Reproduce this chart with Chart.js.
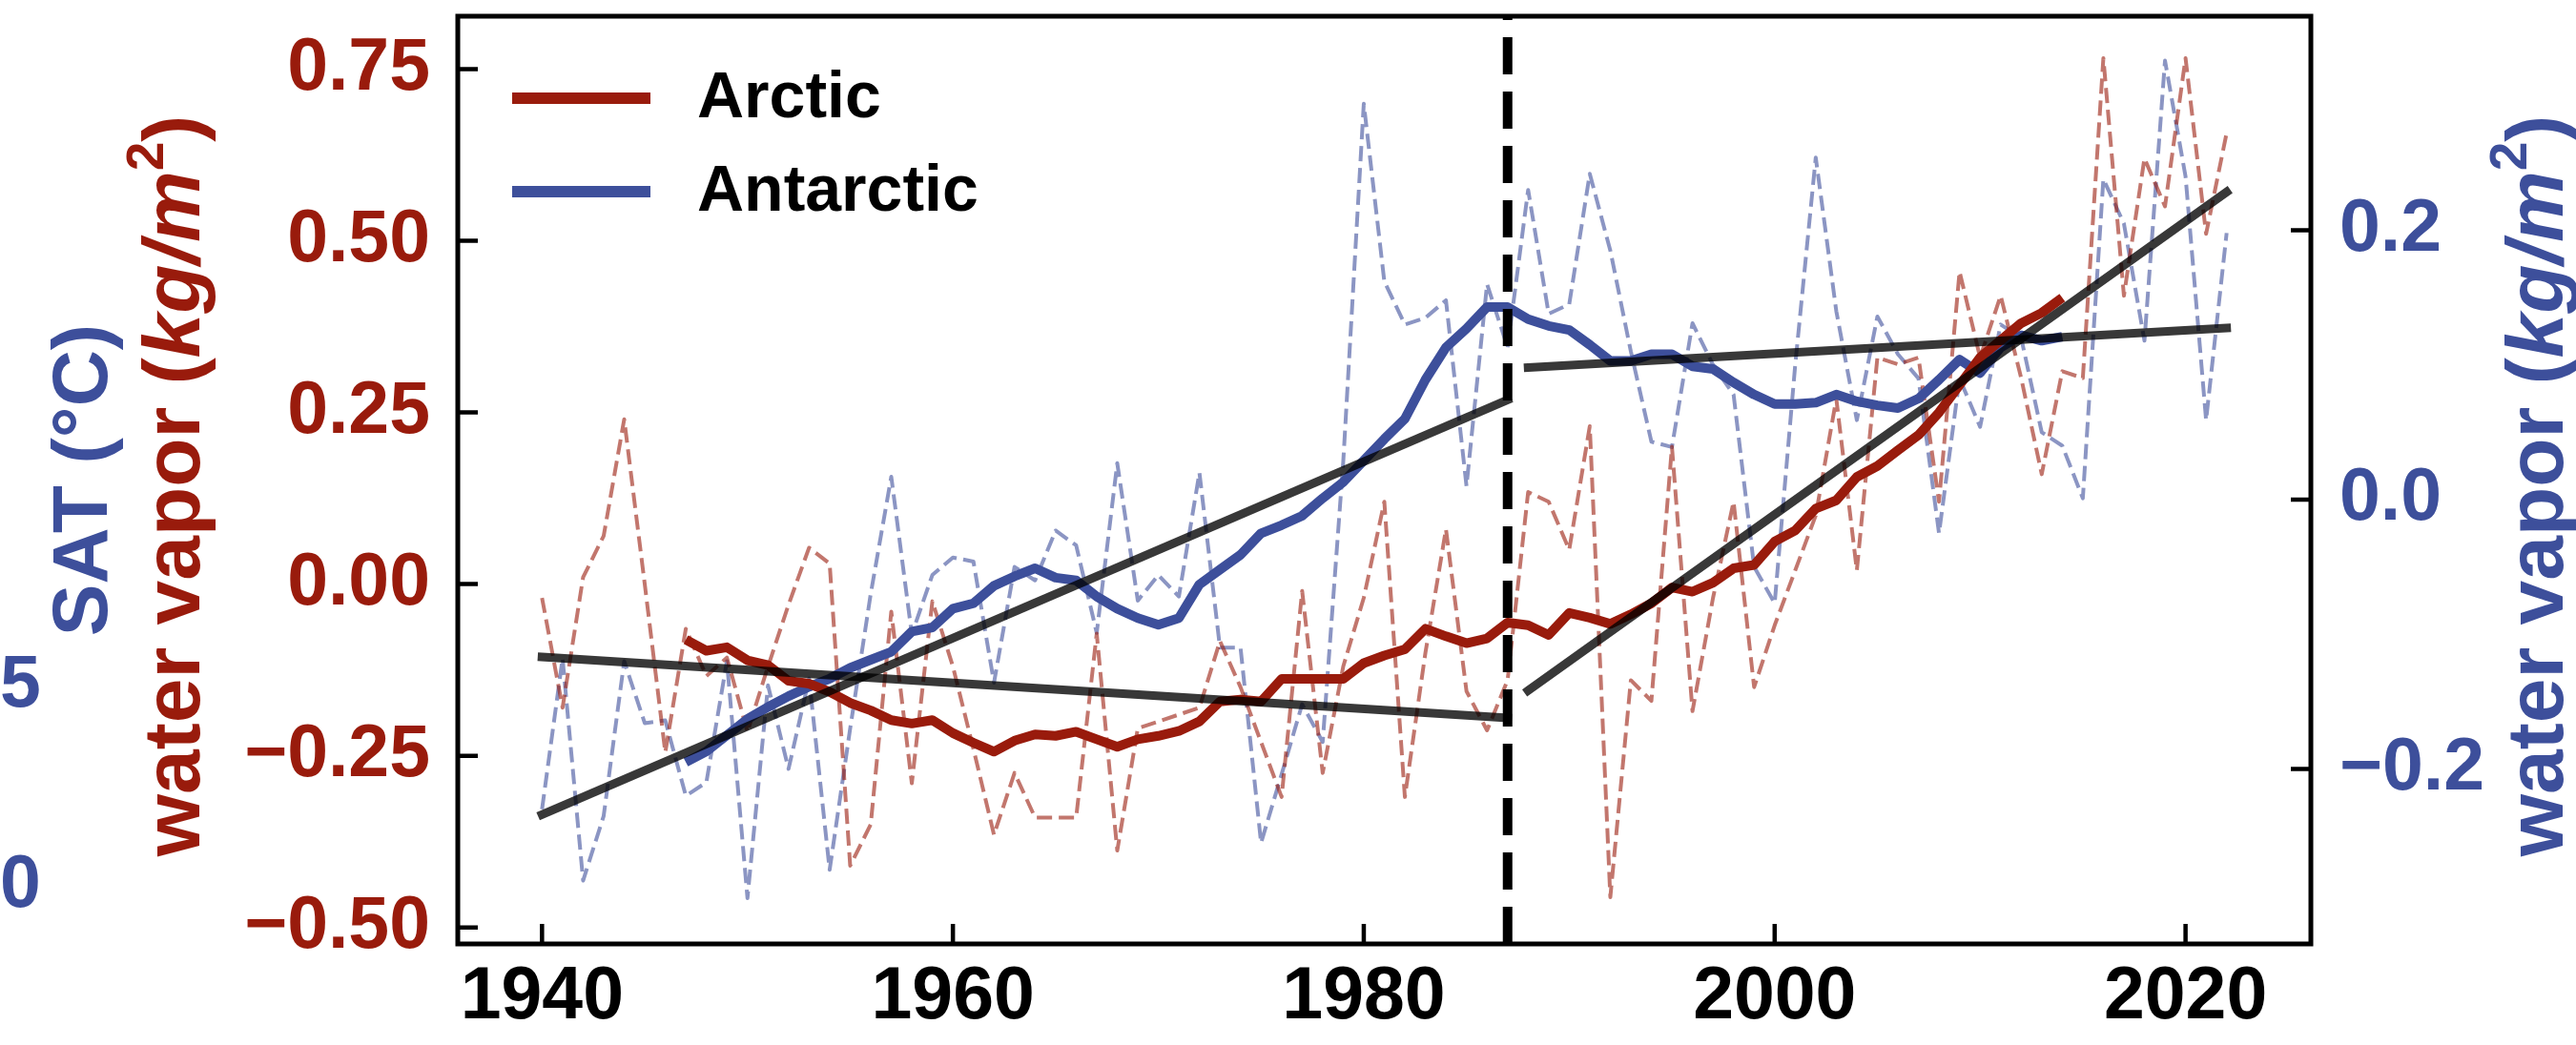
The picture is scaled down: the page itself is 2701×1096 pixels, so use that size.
<!DOCTYPE html>
<html>
<head>
<meta charset="utf-8">
<title>Arctic / Antarctic water vapor</title>
<script src="https://cdn.jsdelivr.net/npm/chart.js@4.4.1/dist/chart.umd.min.js"></script>
<style>
  html, body { margin: 0; padding: 0; background: #fff; }
  #wrap { width: 2701px; height: 1096px; }
</style>
</head>
<body>
<div id="wrap"><canvas id="chart" width="2701" height="1096"></canvas></div>
<script>
// ---- data ----
const years = [1940, 1941, 1942, 1943, 1944, 1945, 1946, 1947, 1948, 1949,
  1950, 1951, 1952, 1953, 1954, 1955, 1956, 1957, 1958, 1959,
  1960, 1961, 1962, 1963, 1964, 1965, 1966, 1967, 1968, 1969,
  1970, 1971, 1972, 1973, 1974, 1975, 1976, 1977, 1978, 1979,
  1980, 1981, 1982, 1983, 1984, 1985, 1986, 1987, 1988, 1989,
  1990, 1991, 1992, 1993, 1994, 1995, 1996, 1997, 1998, 1999,
  2000, 2001, 2002, 2003, 2004, 2005, 2006, 2007, 2008, 2009,
  2010, 2011, 2012, 2013, 2014, 2015, 2016, 2017, 2018, 2019,
  2020, 2021, 2022]

// annual anomalies (dashed), Arctic on left axis, Antarctic on right axis
const arcticAnnual = [-0.02, -0.18, 0.01, 0.07, 0.24, 0.00, -0.245, -0.065, -0.134, -0.107,
  -0.215, -0.12, -0.03, 0.053, 0.03, -0.41, -0.35, -0.04, -0.29, -0.025,
  -0.12, -0.24, -0.365, -0.275, -0.34, -0.34, -0.34, -0.072, -0.388, -0.21,
  -0.20, -0.19, -0.18, -0.083, -0.15, -0.23, -0.31, -0.01, -0.275, -0.12,
  -0.02, 0.12, -0.31, -0.10, 0.08, -0.156, -0.213, -0.14, 0.134, 0.12,
  0.05, 0.23, -0.456, -0.14, -0.17, 0.20, -0.185, -0.02, 0.12, -0.15,
  -0.06, 0.02, 0.10, 0.27, 0.02, 0.33, 0.32, 0.33, 0.12, 0.455,
  0.33, 0.42, 0.30, 0.16, 0.31, 0.30, 0.766, 0.42, 0.62, 0.55,
  0.766, 0.51, 0.657]

const antarcticAnnual = [-0.23, -0.118, -0.283, -0.235, -0.12, -0.166, -0.164, -0.22, -0.21, -0.12,
  -0.296, -0.138, -0.2, -0.133, -0.275, -0.17, -0.07, 0.017, -0.1, -0.056,
  -0.043, -0.046, -0.136, -0.05, -0.06, -0.023, -0.034, -0.099, 0.027, -0.075,
  -0.056, -0.072, 0.02, -0.11, -0.11, -0.255, -0.204, -0.152, -0.18, 0.028,
  0.294, 0.162, 0.13, 0.135, 0.148, 0.01, 0.16, 0.113, 0.23, 0.138,
  0.145, 0.242, 0.185, 0.11, 0.043, 0.039, 0.131, 0.10, 0.078, -0.05,
  -0.077, 0.10, 0.254, 0.14, 0.059, 0.136, 0.108, 0.09, -0.025, 0.09,
  0.054, 0.13, 0.12, 0.05, 0.04, 0.001, 0.238, 0.205, 0.118, 0.326,
  0.24, 0.059, 0.198]

// running means (solid), 1947-2014
const smoothYears = years.slice(7, 75)

const arcticSmooth = [-0.081, -0.097, -0.092, -0.111, -0.118, -0.141, -0.145, -0.157, -0.173, -0.184,
  -0.198, -0.203, -0.198, -0.217, -0.231, -0.244, -0.228, -0.219, -0.221, -0.215,
  -0.226, -0.237, -0.226, -0.221, -0.214, -0.2, -0.171, -0.168, -0.171, -0.138,
  -0.138, -0.138, -0.138, -0.115, -0.104, -0.095, -0.065, -0.076, -0.086, -0.079,
  -0.056, -0.06, -0.074, -0.042, -0.049, -0.058, -0.044, -0.028, -0.005, -0.011,
  0.002, 0.023, 0.028, 0.062, 0.078, 0.11, 0.122, 0.156, 0.172, 0.195,
  0.217, 0.25, 0.29, 0.33, 0.355, 0.38, 0.395, 0.417]

const antarcticSmooth = [-0.195, -0.187, -0.175, -0.163, -0.154, -0.146, -0.139, -0.133, -0.125, -0.119,
  -0.113, -0.098, -0.095, -0.081, -0.077, -0.064, -0.057, -0.051, -0.058, -0.06,
  -0.072, -0.081, -0.088, -0.093, -0.088, -0.063, -0.052, -0.041, -0.025, -0.019,
  -0.012, 0.001, 0.013, 0.029, 0.045, 0.06, 0.089, 0.113, 0.127, 0.143,
  0.143, 0.134, 0.129, 0.126, 0.115, 0.103, 0.103, 0.108, 0.108, 0.099,
  0.097, 0.087, 0.078, 0.071, 0.071, 0.072, 0.078, 0.073, 0.07, 0.068,
  0.075, 0.089, 0.104, 0.094, 0.113, 0.122, 0.118, 0.121]

// linear trends before / after the 1987 break
const trendEarlyYears = [1940, 1987]
const trendLateYears = [1988, 2022]
const arcticTrendEarly = [-0.106, -0.195]
const arcticTrendLate = [-0.155, 0.571]
const antarcticTrendEarly = [-0.234, 0.074]
const antarcticTrendLate = [0.098, 0.1275]
const breakYear = 1987

// tick labels
const xTicks = [1940, 1960, 1980, 2000, 2020]
const leftTicks = [-0.5, -0.25, 0, 0.25, 0.5, 0.75]
const rightTicks = [-0.2, 0, 0.2]
const satTicks = [0, 5]

// ---- styling ----
const RED = "#991b0c"
const BLUE = "#3d4f9b"
const FONT = "'Liberation Sans', Arial, Helvetica, sans-serif"

const X_MIN = 1935.9, X_MAX = 2026.1
const L_MIN = -0.524, L_MAX = 0.827
const R_MIN = -0.330, R_MAX = 0.359

Chart.defaults.font.family = FONT
Chart.defaults.font.weight = "bold"

function pts(xs, ys) {
  return xs.map((x, i) => ({ x: x, y: ys[i] }))
}

function signed(v, digits) {
  const s = Math.abs(v).toFixed(digits)
  return v < -1e-9 ? "\u2212" + s : s
}

// fixed box sizes so the plot area sits where the original one does
function fixWidth(w) {
  return s => { s.width = w; s.paddingTop = 0; s.paddingBottom = 0 }
}

// inward ticks + black frame, drawn above the lines
const frameAndTicks = {
  id: "frameAndTicks",
  afterDatasetsDraw(chart) {
    const { ctx, chartArea: a, scales } = chart
    ctx.save()
    ctx.strokeStyle = "#000"
    ctx.lineWidth = 4.5
    ctx.beginPath()
    scales.y.ticks.forEach(t => {
      const py = scales.y.getPixelForValue(t.value)
      ctx.moveTo(a.left, py); ctx.lineTo(a.left + 21, py)
    })
    scales.yR.ticks.forEach(t => {
      const py = scales.yR.getPixelForValue(t.value)
      ctx.moveTo(a.right, py); ctx.lineTo(a.right - 21, py)
    })
    scales.x.ticks.forEach(t => {
      const px = scales.x.getPixelForValue(t.value)
      ctx.moveTo(px, a.bottom); ctx.lineTo(px, a.bottom - 21)
    })
    ctx.stroke()
    ctx.lineWidth = 5
    ctx.strokeRect(a.left, a.top, a.right - a.left, a.bottom - a.top)
    ctx.restore()
  }
}

// legend in the upper left corner of the axes
const cornerLegend = {
  id: "cornerLegend",
  afterDraw(chart) {
    const { ctx, chartArea: a } = chart
    const items = [
      { text: "Arctic", color: RED, y: a.top + 86 },
      { text: "Antarctic", color: BLUE, y: a.top + 184 }
    ]
    ctx.save()
    items.forEach(it => {
      ctx.strokeStyle = it.color
      ctx.lineWidth = 12
      ctx.beginPath()
      ctx.moveTo(a.left + 57, it.y)
      ctx.lineTo(a.left + 202, it.y)
      ctx.stroke()
      ctx.fillStyle = "#000"
      ctx.font = "bold 68px " + FONT
      ctx.textBaseline = "middle"
      ctx.textAlign = "left"
      ctx.fillText(it.text, a.left + 251, it.y + 1)
    })
    ctx.restore()
  }
}

// rotated axis titles with the italic unit and superscript
function drawVerticalTitle(ctx, color, cx, cy) {
  const size = 84
  const parts = [
    { text: "water vapor (", font: "bold " + size + "px " + FONT, dy: 0 },
    { text: "kg/m", font: "italic bold " + size + "px " + FONT, dy: 0 },
    { text: "2", font: "bold " + Math.round(size * 0.66) + "px " + FONT, dy: -size * 0.36 },
    { text: ")", font: "bold " + size + "px " + FONT, dy: 0 }
  ]
  let total = 0
  parts.forEach(p => { ctx.font = p.font; p.w = ctx.measureText(p.text).width; total += p.w })
  ctx.save()
  ctx.translate(cx, cy)
  ctx.rotate(-Math.PI / 2)
  ctx.fillStyle = color
  ctx.textBaseline = "middle"
  ctx.textAlign = "left"
  let x = -total / 2
  parts.forEach(p => { ctx.font = p.font; ctx.fillText(p.text, x, p.dy); x += p.w })
  ctx.restore()
}

const vaporTitles = {
  id: "vaporTitles",
  afterDraw(chart) {
    const { ctx, chartArea: a } = chart
    const cy = (a.top + a.bottom) / 2 + 6
    drawVerticalTitle(ctx, RED, 186, cy)
    drawVerticalTitle(ctx, BLUE, 2664, cy)
  }
}

const tickFont = { size: 77, weight: "bold" }

new Chart(document.getElementById("chart"), {
  type: "line",
  data: {
    datasets: [
      {
        label: "Arctic annual",
        data: pts(years, arcticAnnual),
        yAxisID: "y",
        borderColor: "rgba(153, 27, 12, 0.6)",
        borderWidth: 4,
        borderDash: [16, 7],
        borderJoinStyle: "round",
        pointRadius: 0,
        order: 5
      },
      {
        label: "Antarctic annual",
        data: pts(years, antarcticAnnual),
        yAxisID: "yR",
        borderColor: "rgba(61, 79, 155, 0.6)",
        borderWidth: 4,
        borderDash: [16, 7],
        borderJoinStyle: "round",
        pointRadius: 0,
        order: 5
      },
      {
        label: "Arctic",
        data: pts(smoothYears, arcticSmooth),
        yAxisID: "y",
        borderColor: RED,
        borderWidth: 10,
        borderJoinStyle: "round",
        pointRadius: 0,
        order: 3
      },
      {
        label: "Antarctic",
        data: pts(smoothYears, antarcticSmooth),
        yAxisID: "yR",
        borderColor: BLUE,
        borderWidth: 10,
        borderJoinStyle: "round",
        pointRadius: 0,
        order: 3
      },
      {
        label: "Arctic trend 1940-1987",
        data: pts(trendEarlyYears, arcticTrendEarly),
        yAxisID: "y",
        borderColor: "rgba(0, 0, 0, 0.78)",
        borderWidth: 9,
        borderCapStyle: "square",
        pointRadius: 0,
        order: 2
      },
      {
        label: "Arctic trend 1988-2022",
        data: pts(trendLateYears, arcticTrendLate),
        yAxisID: "y",
        borderColor: "rgba(0, 0, 0, 0.78)",
        borderWidth: 9,
        borderCapStyle: "square",
        pointRadius: 0,
        order: 2
      },
      {
        label: "Antarctic trend 1940-1987",
        data: pts(trendEarlyYears, antarcticTrendEarly),
        yAxisID: "yR",
        borderColor: "rgba(0, 0, 0, 0.78)",
        borderWidth: 9,
        borderCapStyle: "square",
        pointRadius: 0,
        order: 2
      },
      {
        label: "Antarctic trend 1988-2022",
        data: pts(trendLateYears, antarcticTrendLate),
        yAxisID: "yR",
        borderColor: "rgba(0, 0, 0, 0.78)",
        borderWidth: 9,
        borderCapStyle: "square",
        pointRadius: 0,
        order: 2
      },
      {
        label: "break",
        data: [{ x: breakYear, y: L_MIN }, { x: breakYear, y: L_MAX }],
        yAxisID: "y",
        borderColor: "#000",
        borderWidth: 10,
        borderDash: [39, 18],
        pointRadius: 0,
        order: 1
      }
    ]
  },
  options: {
    responsive: false,
    devicePixelRatio: 1,
    animation: false,
    layout: { padding: { top: 17, left: 0, right: 0, bottom: 0 } },
    plugins: {
      legend: { display: false },
      tooltip: { enabled: false }
    },
    scales: {
      x: {
        type: "linear",
        position: "bottom",
        min: X_MIN,
        max: X_MAX,
        grid: { display: false, drawTicks: false },
        border: { display: false },
        afterBuildTicks: s => { s.ticks = xTicks.map(v => ({ value: v })) },
        afterFit: s => { s.height = 106; s.paddingLeft = 0; s.paddingRight = 0 },
        ticks: {
          color: "#000",
          font: tickFont,
          padding: 11,
          autoSkip: false,
          maxRotation: 0,
          callback: v => String(v)
        }
      },
      y: {
        type: "linear",
        position: "left",
        min: L_MIN,
        max: L_MAX,
        grid: { display: false, drawTicks: false },
        border: { display: false },
        afterBuildTicks: s => { s.ticks = leftTicks.map(v => ({ value: v })) },
        afterFit: fixWidth(337),
        ticks: {
          color: RED,
          font: tickFont,
          padding: 29,
          autoSkip: false,
          callback: v => signed(v, 2)
        }
      },
      // outermost left axis: only the cut-off SAT labels and its title
      ySat: {
        type: "linear",
        position: "left",
        min: -1.4286,
        max: 21.738,
        grid: { display: false, drawTicks: false },
        border: { display: false },
        afterBuildTicks: s => { s.ticks = satTicks.map(v => ({ value: v })) },
        afterFit: fixWidth(143),
        ticks: {
          color: BLUE,
          font: tickFont,
          padding: 0,
          crossAlign: "far",
          autoSkip: false,
          callback: v => String(v)
        },
        title: {
          display: true,
          text: "SAT (\u00b0C)",
          color: BLUE,
          font: { size: 82, weight: "bold" },
          padding: { top: 40, bottom: 0 }
        }
      },
      yR: {
        type: "linear",
        position: "right",
        min: R_MIN,
        max: R_MAX,
        grid: { display: false, drawTicks: false },
        border: { display: false },
        afterBuildTicks: s => { s.ticks = rightTicks.map(v => ({ value: v })) },
        afterFit: fixWidth(278),
        ticks: {
          color: BLUE,
          font: tickFont,
          padding: 30,
          autoSkip: false,
          callback: v => signed(v, 1)
        }
      }
    }
  },
  plugins: [frameAndTicks, cornerLegend, vaporTitles]
})

console.log("Chart rendered")
</script>
</body>
</html>
